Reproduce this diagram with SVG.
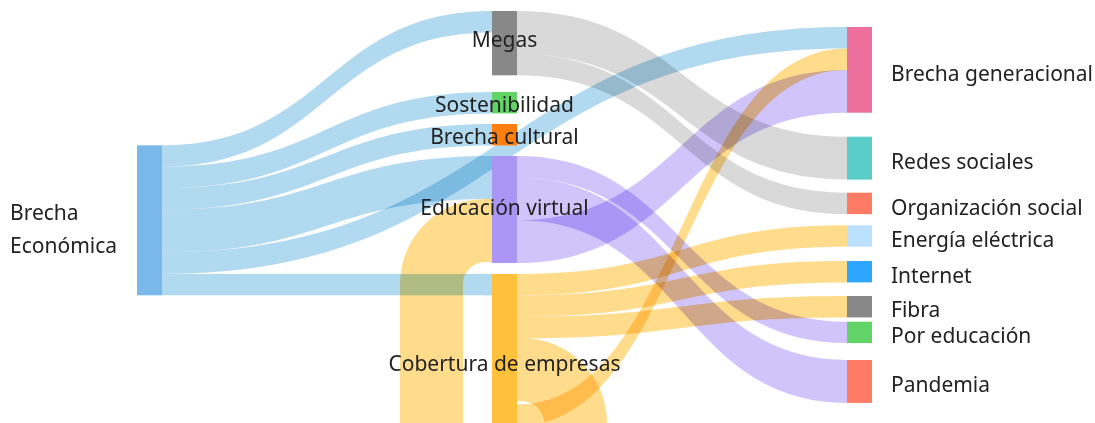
<svg xmlns="http://www.w3.org/2000/svg" width="1095" height="423" viewBox="0 0 1095 423">
<style>
#links path{mix-blend-mode:multiply}
.lb{fill:#b1daf0}
.lg{fill:#d9d9d9}
.lp{fill:#d0c4fa}
.ly{fill:#ffdb8c}
text{font-family:"Noto Sans","Open Sans","Liberation Sans",sans-serif;font-size:21px;fill:#222}
.m{text-anchor:middle}
</style>
<rect width="1095" height="423" fill="#ffffff"/>
<g id="links">
<path class="lg" d="M517,11 C682,11 682,136.7 847,136.7 L847,179.6 C682,179.6 682,53.9 517,53.9 Z"/>
<path class="lg" d="M517,53.9 C682,53.9 682,192.7 847,192.7 L847,214.1 C682,214.1 682,75.3 517,75.3 Z"/>
<path class="lb" d="M162,145.3 C327,145.3 327,11 492,11 L492,32.4 C327,32.4 327,166.7 162,166.7 Z"/>
<path class="lb" d="M162,166.7 C327,166.7 327,92 492,92 L492,113.4 C327,113.4 327,188.1 162,188.1 Z"/>
<path class="lb" d="M162,188.1 C327,188.1 327,124 492,124 L492,145.4 C327,145.4 327,209.6 162,209.6 Z"/>
<path class="lb" d="M162,209.6 C327,209.6 327,156 492,156 L492,198.9 C327,198.9 327,252.4 162,252.4 Z"/>
<path class="lb" d="M162,252.4 C504.5,252.4 504.5,27 847,27 L847,48.4 C504.5,48.4 504.5,273.9 162,273.9 Z"/>
<path class="lb" d="M162,273.9 C327,273.9 327,274 492,274 L492,295.4 C327,295.4 327,295.3 162,295.3 Z"/>
<path class="lp" d="M517,156 C682,156 682,321.7 847,321.7 L847,343.1 C682,343.1 682,177.4 517,177.4 Z"/>
<path class="lp" d="M517,177.4 C682,177.4 682,360 847,360 L847,402.9 C682,402.9 682,220.3 517,220.3 Z"/>
<path class="lp" d="M517,220.3 C682,220.3 682,69.9 847,69.9 L847,112.7 C682,112.7 682,263.1 517,263.1 Z"/>
<path class="ly" d="M517,274 C682,274 682,225.3 847,225.3 L847,246.7 C682,246.7 682,295.4 517,295.4 Z"/>
<path class="ly" d="M517,295.4 C682,295.4 682,261 847,261 L847,282.4 C682,282.4 682,316.9 517,316.9 Z"/>
<path class="ly" d="M517,316.9 C682,316.9 682,296 847,296 L847,317.4 C682,317.4 682,338.3 517,338.3 Z"/>
<path class="ly" d="M517,338 L522,338 A85,85 0 0 1 607,423 L607,470 L400,470 L400,284 A85,85 0 0 1 485,199 L492,199 L492,262 L485,262 A22,22 0 0 0 463,284 L463,450 L544,450 L544,423 A22,22 0 0 0 522,401 L517,401 Z"/>
<path class="ly" d="M517,404.5 C682,404.5 682,48.4 847,48.4 L847,69.9 C682,69.9 682,425.9 517,425.9 Z"/>
</g>
<g id="node-brecha-economica"><rect x="137" y="145.3" width="25" height="150" fill="#79b8e8"/><text x="10" y="220">Brecha</text><text x="10" y="253">Económica</text></g>
<g id="node-megas"><rect x="492" y="11" width="25" height="64.3" fill="#888888"/><text class="m" x="504.5" y="47">Megas</text></g>
<g id="node-sostenibilidad"><rect x="492" y="92" width="25" height="21.4" fill="#62d467"/><text class="m" x="504.5" y="111.5">Sostenibilidad</text></g>
<g id="node-brecha-cultural"><rect x="492" y="124" width="25" height="21.4" fill="#ff7f0e"/><text class="m" x="504.5" y="144">Brecha cultural</text></g>
<g id="node-educacion-virtual"><rect x="492" y="156" width="25" height="107" fill="#ab96f6"/><text class="m" x="504.5" y="214.5">Educación virtual</text></g>
<g id="node-cobertura"><rect x="492" y="274" width="25" height="160" fill="#ffc13b"/><text class="m" x="504.5" y="371">Cobertura de empresas</text></g>
<g id="node-brecha-generacional"><rect x="847" y="27" width="25" height="85.7" fill="#ed6f9b"/><text x="891" y="81">Brecha generacional</text></g>
<g id="node-redes-sociales"><rect x="847" y="136.7" width="25" height="42.9" fill="#5acdc8"/><text x="891" y="169">Redes sociales</text></g>
<g id="node-organizacion-social"><rect x="847" y="192.7" width="25" height="21.4" fill="#ff7b63"/><text x="891" y="215">Organización social</text></g>
<g id="node-energia-electrica"><rect x="847" y="225.3" width="25" height="21.4" fill="#bae0fd"/><text x="891" y="247">Energía eléctrica</text></g>
<g id="node-internet"><rect x="847" y="261" width="25" height="21.4" fill="#2ea5ff"/><text x="891" y="283">Internet</text></g>
<g id="node-fibra"><rect x="847" y="296" width="25" height="21.4" fill="#888888"/><text x="891" y="317">Fibra</text></g>
<g id="node-por-educacion"><rect x="847" y="321.7" width="25" height="21.4" fill="#62d467"/><text x="891" y="343">Por educación</text></g>
<g id="node-pandemia"><rect x="847" y="360" width="25" height="42.9" fill="#ff7b63"/><text x="891" y="392">Pandemia</text></g>
</svg>
